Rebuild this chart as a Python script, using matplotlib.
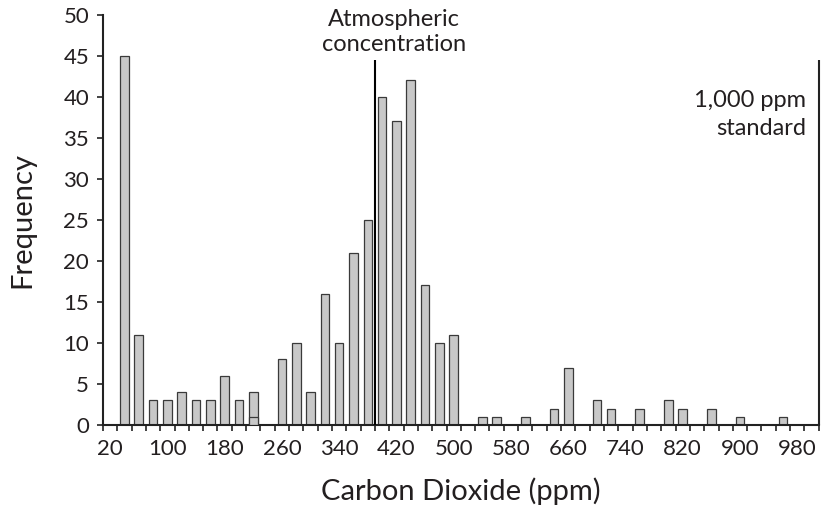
import matplotlib.pyplot as plt
import numpy as np

# CO2 bins (ppm), one bar per 20 ppm bin
bins_ppm = list(range(20, 1001, 20))
counts = [0, 45, 11, 3, 3, 4, 3, 3, 6, 3,
          4, 0, 8, 10, 4, 16, 10, 21, 25, 40,
          37, 42, 17, 10, 11, 0, 1, 1, 0, 1,
          0, 2, 7, 0, 3, 2, 0, 2, 0, 3,
          2, 0, 2, 0, 1, 0, 0, 1, 0, 0]
# the 220 ppm bar has an inner division at 1
inner_bins = [220]
inner_counts = [1]

tick_labels = [str(v) for v in range(20, 1000, 80)]

atmos_ppm = 390
standard_ppm = 1010
marker_top = 44.5

plt.rcParams["font.family"] = ["Lato", "DejaVu Sans"]
text_color = "#231f20"

fig = plt.figure(figsize=(8.27, 5.18), dpi=100)
ax = fig.add_axes([0.1245, 0.1795, 0.8655, 0.7925])

bar_w = 12
ax.bar(bins_ppm, counts, width=bar_w, color="#c8c8c8",
       edgecolor="#3a3a3a", linewidth=0.9, zorder=2)
ax.bar(inner_bins, inner_counts, width=bar_w, color="#c8c8c8",
       edgecolor="#3a3a3a", linewidth=0.9, zorder=3)

# reference lines
ax.vlines(atmos_ppm, 0, marker_top, color="black", linewidth=1.5, zorder=4)
ax.vlines(standard_ppm, 0, marker_top, color="#222222", linewidth=1.5,
          zorder=4, clip_on=False)
ax.text(atmos_ppm + 26, 47.85, "Atmospheric\nconcentration", ha="center",
        va="center", fontsize=17, color=text_color, linespacing=1.2)
ax.text(992, 37.8, "1,000 ppm\nstandard", ha="right", va="center",
        fontsize=17, color=text_color, linespacing=1.4)

ax.set_xlim(10, 1010)
ax.set_ylim(0, 50)

# ticks between bins, labels every 4th bin
ax.set_xticks(np.arange(10, 1011, 20))
ax.set_xticklabels([])
ax.tick_params(axis="x", which="major", direction="out", length=4,
               width=1.2, color="#222222")
ax.set_xticks(range(20, 1000, 80), tick_labels, minor=True)
ax.tick_params(axis="x", which="minor", length=0, pad=10,
               labelsize=16, labelcolor=text_color)

ax.set_yticks(range(0, 51, 5))
ax.tick_params(axis="y", direction="out", length=4, width=1.2,
               color="#222222", pad=6, labelsize=16, labelcolor=text_color)

for side in ["top", "right"]:
    ax.spines[side].set_visible(False)
for side in ["left", "bottom"]:
    ax.spines[side].set_linewidth(1.5)
    ax.spines[side].set_color("#222222")

ax.set_xlabel("Carbon Dioxide (ppm)", fontsize=21, color=text_color,
              labelpad=13)
ax.set_ylabel("Frequency", fontsize=21, color=text_color, labelpad=20)

plt.savefig("out.png", dpi=100)
plt.close()
